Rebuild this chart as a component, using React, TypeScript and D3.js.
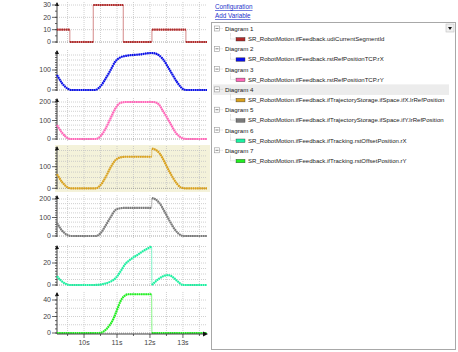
import React from "react";
import * as d3 from "d3";

// time ticks on the shared x axis
const tickSeconds = [10, 11, 12, 13];
const tickLabels = ["10s", "11s", "12s", "13s"];

// Diagram 1 - udiCurrentSegmentId (step)
const segT = [9.18, 9.57, 10.28, 11.19, 12.06, 13.09, 13.73];
const segV = [10, 0, 30, 0, 10, 0, 0];

// Diagram 2 - rstRefPositionTCP.rX
const rxT = [9.18, 9.33, 9.52, 9.6, 10.33, 10.48, 10.63, 10.79, 10.94, 11.09, 11.24, 11.7, 12.03, 12.15, 12.39, 12.6, 12.82, 13.0, 13.09, 13.73];
const rxV = [75, 35, 5, 0, 0, 15, 50, 95, 140, 162, 170, 178, 185, 183, 155, 100, 40, 5, 0, 0];

// Diagram 3 - rstRefPositionTCP.rY
const ryT = [9.18, 9.33, 9.52, 9.6, 10.36, 10.5, 10.65, 10.8, 10.95, 11.1, 11.25, 12.1, 12.25, 12.4, 12.6, 12.8, 13.0, 13.1, 13.73];
const ryV = [75, 35, 3, 0, 0, 15, 55, 110, 165, 195, 200, 200, 190, 150, 90, 30, 3, 0, 0];

// Diagram 4 - ifX.lrRefPosition
const pxT = [9.18, 9.33, 9.52, 9.6, 10.36, 10.5, 10.65, 10.8, 10.95, 11.1, 11.25, 12.05, 12.06, 12.15, 12.3, 12.45, 12.6, 12.8, 12.95, 13.05, 13.73];
const pxV = [65, 30, 3, 0, 0, 15, 50, 95, 130, 143, 146, 146, 184, 180, 160, 120, 75, 25, 3, 0, 0];

// Diagram 5 - ifY.lrRefPosition
const pyT = [9.18, 9.33, 9.52, 9.6, 10.36, 10.5, 10.65, 10.8, 10.95, 11.1, 11.25, 12.05, 12.06, 12.15, 12.3, 12.45, 12.6, 12.8, 12.95, 13.05, 13.73];
const pyV = [70, 30, 3, 0, 0, 15, 55, 100, 140, 150, 152, 152, 205, 200, 175, 130, 80, 25, 3, 0, 0];

// Diagram 6 - rstOffsetPosition.rX
const oxT = [9.18, 9.3, 9.45, 9.55, 10.3, 10.6, 10.8, 10.95, 11.1, 11.25, 11.4, 11.6, 11.8, 12.05, 12.06, 12.2, 12.4, 12.55, 12.7, 12.85, 13.0, 13.73];
const oxV = [8, 4, 1, 0, 0, 1, 3, 6, 12, 19, 23, 27, 31, 35, 0, 4, 8, 9, 7, 3, 0, 0];

// Diagram 7 - rstOffsetPosition.rY
const oyT = [9.18, 10.45, 10.6, 10.75, 10.9, 11.0, 11.1, 11.2, 11.35, 12.05, 12.06, 13.73];
const oyV = [0, 0, 2, 8, 18, 28, 38, 44, 47, 47, 0, 0];

const names = [
  "SR_RobotMotion.ifFeedback.udiCurrentSegmentId",
  "SR_RobotMotion.ifFeedback.rstRefPositionTCP.rX",
  "SR_RobotMotion.ifFeedback.rstRefPositionTCP.rY",
  "SR_RobotMotion.ifFeedback.ifTrajectoryStorage.ifSpace.ifX.lrRefPosition",
  "SR_RobotMotion.ifFeedback.ifTrajectoryStorage.ifSpace.ifY.lrRefPosition",
  "SR_RobotMotion.ifFeedback.ifTracking.rstOffsetPosition.rX",
  "SR_RobotMotion.ifFeedback.ifTracking.rstOffsetPosition.rY",
];
const colors = ["#b02a2a", "#0a10e8", "#ff66b8", "#d9a01c", "#7a7a7a", "#1cf0a0", "#22ee22"];
const seriesT = [segT, rxT, ryT, pxT, pyT, oxT, oyT];
const seriesV = [segV, rxV, ryV, pxV, pyV, oxV, oyV];

// layout of each diagram strip
const panels = [
  { bottom: 42, max: 30, top: 5, axisTop: 3, ticks: [0, 10, 20, 30], grid: 10 },
  { bottom: 90, max: 100, top: 70, axisTop: 51, ticks: [0, 100], grid: 25 },
  { bottom: 139, max: 200, top: 102, axisTop: 99, ticks: [0, 100, 200], grid: 25 },
  { bottom: 188.3, max: 100, top: 166.7, axisTop: 147, ticks: [0, 100], grid: 25 },
  { bottom: 236, max: 200, top: 199, axisTop: 196, ticks: [0, 100, 200], grid: 25 },
  { bottom: 285, max: 20, top: 263, axisTop: 246, ticks: [0, 20], grid: 5 },
  { bottom: 333, max: 40, top: 300, axisTop: 293, ticks: [0, 20, 40], grid: 10 },
];

const AX = 57;
const x = d3.scaleLinear().domain([9.18, 13.73]).range([AX, 207]);
const font = "Liberation Sans, Arial, sans-serif";

const Panel = ({ i }: { i: number }) => {
  const p = panels[i];
  const y = d3.scaleLinear().domain([0, p.max]).range([p.bottom, p.top]);
  const vMax = y.invert(p.axisTop);
  const grid = d3.range(0, vMax, p.grid);
  const vgrid = d3.range(9.5, 13.74, 0.5);
  const ts = seriesT[i];
  const vs = seriesV[i];
  const pts: [number, number][] = ts.map((t, k) => [t, vs[k]]);
  const col = colors[i];
  const step = i === 0;
  const thin = d3
    .line<[number, number]>()
    .x((d) => x(d[0]))
    .y((d) => y(d[1]))
    .curve(step ? d3.curveStepAfter : d3.curveMonotoneX);
  // thick runs, broken at jumps
  const runs: [number, number][][] = [];
  if (step) {
    for (let k = 0; k < pts.length - 1; k++) runs.push([[pts[k][0], pts[k][1]], [pts[k + 1][0], pts[k][1]]]);
  } else {
    let cur: [number, number][] = [pts[0]];
    for (let k = 1; k < pts.length; k++) {
      if (pts[k][0] - pts[k - 1][0] < 0.02) {
        runs.push(cur);
        cur = [pts[k]];
      } else cur.push(pts[k]);
    }
    runs.push(cur);
  }
  const minor = d3.range(0, vMax, p.grid / 2);
  return (
    <g>
      {i === 3 && <rect x={55} y={145} width={155} height={47} fill="#f4f2da" />}
      {vgrid.map((t) => (
        <line key={"v" + t} x1={x(t)} x2={x(t)} y1={p.axisTop - 1} y2={p.bottom + 2} stroke="#c4c4c4" strokeWidth={0.8} strokeDasharray="1 1" />
      ))}
      {grid.map((v) => (
        <line key={"h" + v} x1={AX} x2={207} y1={y(v)} y2={y(v)} stroke={v === 0 ? "#909090" : "#c4c4c4"} strokeWidth={0.8} strokeDasharray="1 1" />
      ))}
      <line x1={AX} x2={AX} y1={p.axisTop} y2={p.bottom + 1} stroke="#404040" strokeWidth={1} />
      <path d={`M${AX - 2},${p.axisTop + 3}L${AX},${p.axisTop - 1}L${AX + 2},${p.axisTop + 3}Z`} fill="#111" />
      {minor.map((v) => (
        <line key={"m" + v} x1={AX - 2} x2={AX} y1={y(v)} y2={y(v)} stroke="#404040" strokeWidth={0.8} />
      ))}
      {p.ticks.map((v) => (
        <g key={"t" + v}>
          <line x1={AX - 5} x2={AX} y1={y(v)} y2={y(v)} stroke="#404040" strokeWidth={0.8} />
          <text x={AX - 6} y={y(v)} dy="0.35em" textAnchor="end" fontSize={7} fontFamily={font} fill="#444">
            {v}
          </text>
        </g>
      ))}
      <path d={thin(pts) || ""} fill="none" stroke={col} strokeOpacity={0.55} strokeWidth={1} />
      {runs.map((r, k) => (
        <path key={k} d={thin.curve(step ? d3.curveLinear : d3.curveMonotoneX)(r) || ""} fill="none" stroke={col} strokeWidth={2.2} strokeDasharray="1.6 0.6" />
      ))}
    </g>
  );
};

const App = () => {
  const xt = d3.range(9.5, 13.74, 0.5);
  const rowY = (k: number) => 29 + k * 20.3;
  return (
    <svg width={458} height={352} style={{ position: "absolute", left: 0, top: 0, background: "#fff" }}>
      {panels.map((_, i) => (
        <Panel key={i} i={i} />
      ))}
      {/* shared time axis */}
      <line x1={AX} x2={204} y1={334} y2={334} stroke="#404040" strokeWidth={1} />
      <path d="M203,331.5L208,334L203,336.5Z" fill="#111" />
      {xt.map((t) => (
        <line key={t} x1={x(t)} x2={x(t)} y1={334} y2={Number.isInteger(t) ? 338 : 336} stroke="#404040" strokeWidth={0.8} />
      ))}
      {tickSeconds.map((t, k) => (
        <text key={t} x={x(t)} y={345} textAnchor="middle" fontSize={7} fontFamily={font} fill="#444">
          {tickLabels[k]}
        </text>
      ))}

      {/* right side: variable tree */}
      <text x={215} y={9} fontSize={6.3} fontFamily={font} fill="#2233cc" textDecoration="underline">
        Configuration
      </text>
      <text x={215} y={18} fontSize={6.3} fontFamily={font} fill="#2233cc" textDecoration="underline">
        Add Variable
      </text>
      <rect x={211.5} y={22.5} width={244} height={327} fill="#fff" stroke="#a8a8a8" />
      <rect x={446} y={24} width={8} height={8} fill="#f0f0f0" stroke="#c0c0c0" strokeWidth={0.6} />
      <path d="M448,27L452,27L450,30Z" fill="#111" />
      <rect x={213} y={rowY(3) - 5.5} width={236} height={10.5} fill="#ececec" />
      {names.map((n, k) => {
        const yy = rowY(k);
        return (
          <g key={n}>
            <rect x={214.5} y={yy - 3} width={5} height={5} fill="#fff" stroke="#9a9a9a" strokeWidth={0.6} />
            <line x1={215.5} x2={218.5} y1={yy - 0.5} y2={yy - 0.5} stroke="#333" strokeWidth={0.6} />
            <line x1={219.5} x2={223} y1={yy - 0.5} y2={yy - 0.5} stroke="#aaa" strokeWidth={0.6} strokeDasharray="0.6 0.6" />
            <text x={225} y={yy} dy="0.35em" fontSize={6.2} fontFamily={font} fill="#222">
              {`Diagram ${k + 1}`}
            </text>
            <path d={`M230.5,${yy + 4}V${yy + 10}H235`} fill="none" stroke="#aaa" strokeWidth={0.6} strokeDasharray="0.6 0.6" />
            <rect x={236} y={yy + 8.5} width={9} height={3.5} fill={colors[k]} stroke="#333" strokeWidth={0.4} />
            <text x={248} y={yy + 10} dy="0.35em" fontSize={6.05} fontFamily={font} fill="#222">
              {n}
            </text>
          </g>
        );
      })}
    </svg>
  );
};

export default App;
